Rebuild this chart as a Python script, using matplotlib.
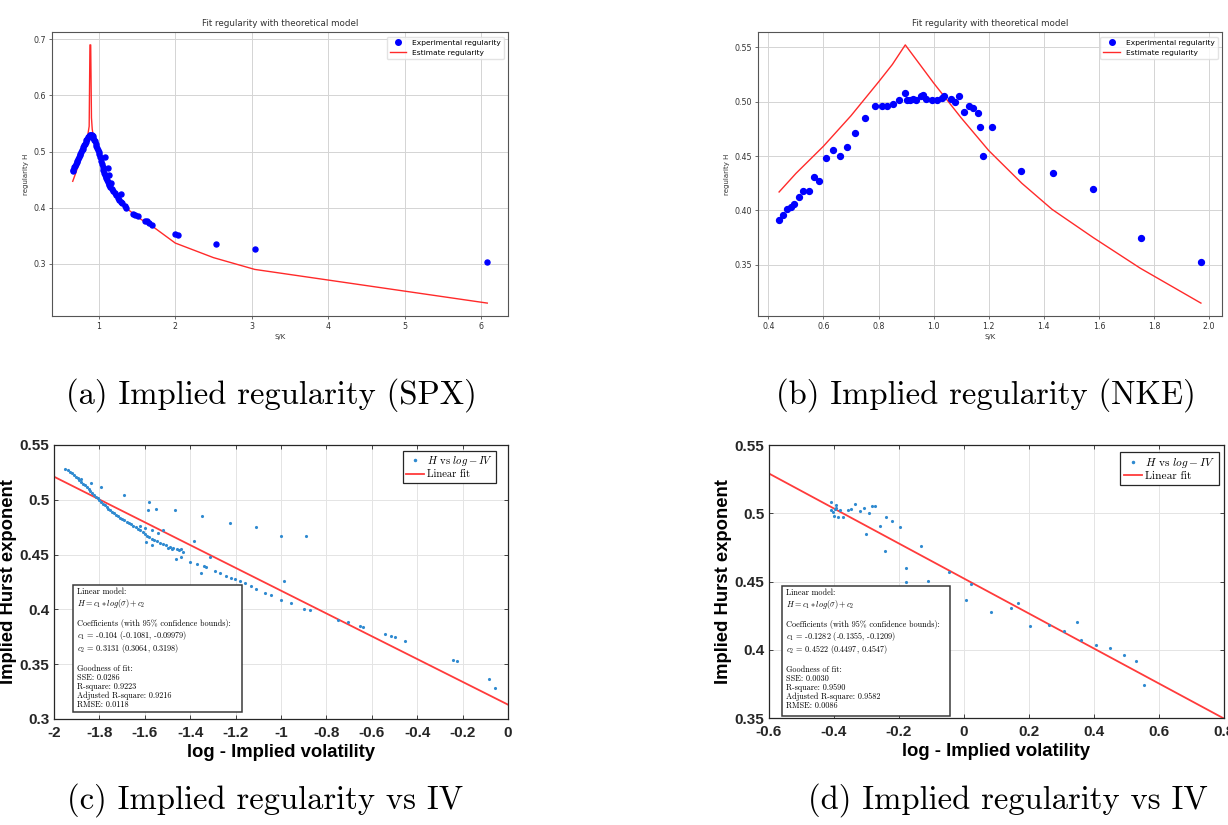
import numpy as np
import matplotlib
matplotlib.use("Agg")
import matplotlib.pyplot as plt
from matplotlib.patches import Rectangle
from matplotlib.lines import Line2D

plt.rcParams['mathtext.fontset'] = 'cm'
plt.rcParams['axes.unicode_minus'] = False

# ---------------- (a) SPX : regularity vs S/K ----------------
spx_x = [0.66, 0.67, 0.68, 0.69, 0.70, 0.71, 0.72, 0.73, 0.74, 0.75, 0.76, 0.77,
         0.78, 0.79, 0.80, 0.81, 0.82, 0.83, 0.84, 0.85, 0.86, 0.87, 0.88, 0.89,
         0.90, 0.91, 0.92, 0.93, 0.94, 0.95, 0.96, 0.97, 0.98, 0.99, 1.00, 1.01,
         1.02, 1.03, 1.04, 1.05, 1.06, 1.07, 1.08, 1.08, 1.09, 1.10, 1.11, 1.12,
         1.12, 1.13, 1.14, 1.14, 1.15, 1.165, 1.17, 1.19, 1.21, 1.23, 1.25, 1.27,
         1.29, 1.29, 1.31, 1.34, 1.36, 1.45, 1.48, 1.51, 1.60, 1.63, 1.66, 1.69,
         2.00, 2.03, 2.53, 3.04, 6.08]
spx_h = [0.465, 0.468, 0.472, 0.475, 0.478, 0.481, 0.484, 0.487, 0.490, 0.493, 0.496, 0.499,
         0.502, 0.505, 0.508, 0.511, 0.514, 0.517, 0.520, 0.523, 0.526, 0.528, 0.530, 0.530,
         0.530, 0.529, 0.527, 0.524, 0.521, 0.518, 0.514, 0.510, 0.506, 0.503, 0.500, 0.495,
         0.490, 0.484, 0.478, 0.472, 0.467, 0.462, 0.458, 0.490, 0.455, 0.452, 0.449, 0.471,
         0.446, 0.443, 0.459, 0.440, 0.437, 0.444, 0.434, 0.430, 0.426, 0.422, 0.418, 0.414,
         0.425, 0.411, 0.408, 0.403, 0.400, 0.389, 0.387, 0.385, 0.377, 0.376, 0.372, 0.370,
         0.353, 0.352, 0.335, 0.327, 0.304]
spx_fit_x = [0.66, 0.70, 0.75, 0.80, 0.84, 0.86, 0.875, 0.885, 0.895, 0.905, 0.915, 0.93,
             0.96, 1.00, 1.05, 1.10, 1.20, 1.30, 1.40, 1.50, 1.60, 1.70, 2.00, 2.50, 3.04, 6.08]
spx_fit_h = [0.447, 0.462, 0.482, 0.502, 0.520, 0.532, 0.545, 0.690, 0.690, 0.560, 0.540, 0.526,
             0.512, 0.495, 0.470, 0.452, 0.427, 0.409, 0.395, 0.384, 0.375, 0.367, 0.337, 0.311,
             0.290, 0.230]

# ---------------- (b) NKE : regularity vs S/K ----------------
nke_x = [0.439, 0.452, 0.466, 0.482, 0.494, 0.511, 0.527, 0.546, 0.566, 0.585, 0.608, 0.634,
         0.659, 0.686, 0.715, 0.752, 0.788, 0.812, 0.831, 0.854, 0.876, 0.896, 0.902, 0.915,
         0.925, 0.937, 0.954, 0.963, 0.973, 0.993, 1.012, 1.032, 1.038, 1.064, 1.077, 1.093,
         1.111, 1.129, 1.144, 1.161, 1.170, 1.178, 1.213, 1.317, 1.434, 1.578, 1.751, 1.970]
nke_h = [0.3909, 0.3962, 0.4011, 0.4032, 0.4060, 0.4125, 0.4180, 0.4180, 0.4309, 0.4269, 0.4478, 0.4558,
         0.4503, 0.4586, 0.4715, 0.4845, 0.4962, 0.4962, 0.4955, 0.4977, 0.5017, 0.5078, 0.5017, 0.5015,
         0.5020, 0.5017, 0.5048, 0.5063, 0.5023, 0.5011, 0.5017, 0.5032, 0.5054, 0.5023, 0.4992, 0.5048,
         0.4900, 0.4962, 0.4940, 0.4894, 0.4762, 0.4500, 0.4762, 0.4362, 0.4340, 0.4195, 0.3743, 0.3531]
nke_fit_x = [0.439, 0.50, 0.60, 0.70, 0.80, 0.85, 0.897, 0.95, 1.00, 1.10, 1.20, 1.32,
             1.43, 1.58, 1.75, 1.97]
nke_fit_h = [0.417, 0.434, 0.459, 0.487, 0.518, 0.534, 0.552, 0.534, 0.517, 0.485, 0.455, 0.425,
             0.401, 0.375, 0.347, 0.315]

# ---------------- (c) SPX : H vs log-IV ----------------
c_logiv = [-1.950, -1.940, -1.930, -1.920, -1.912, -1.905, -1.896, -1.888, -1.880, -1.872,
           -1.864, -1.856, -1.848, -1.840, -1.832, -1.824, -1.816, -1.808, -1.800, -1.792,
           -1.784, -1.776, -1.768, -1.760, -1.752, -1.744, -1.736, -1.728, -1.720, -1.710,
           -1.700, -1.690, -1.680, -1.670, -1.660, -1.650, -1.640, -1.630, -1.620, -1.610,
           -1.600, -1.590, -1.580, -1.570, -1.560, -1.548, -1.535, -1.520, -1.505, -1.490,
           -1.475, -1.460, -1.500, -1.480, -1.450,
           -1.880, -1.838, -1.794, -1.693, -1.583, -1.586, -1.552, -1.468, -1.348, -1.226,
           -1.109, -0.999, -0.891, -1.620, -1.600, -1.570, -1.540, -1.520, -1.593, -1.570,
           -1.383, -1.440, -1.430, -1.461, -1.439, -1.399, -1.370, -1.351, -1.314, -1.340,
           -1.329, -1.292, -1.270, -1.241, -1.220, -1.204, -1.180, -1.160, -1.131, -1.109,
           -1.072, -1.043, -0.999, -0.988, -0.955, -0.900, -0.874, -0.749, -0.705, -0.653,
           -0.640, -0.543, -0.515, -0.499, -0.455, -0.242, -0.225, -0.084, -0.056]
c_hurst = [0.5285, 0.5270, 0.5255, 0.5240, 0.5225, 0.5212, 0.5195, 0.5180, 0.5165, 0.5148,
           0.5132, 0.5115, 0.5098, 0.5080, 0.5064, 0.5047, 0.5030, 0.5013, 0.4998, 0.4982,
           0.4966, 0.4950, 0.4935, 0.4920, 0.4905, 0.4890, 0.4876, 0.4863, 0.4850, 0.4838,
           0.4825, 0.4813, 0.4800, 0.4790, 0.4778, 0.4765, 0.4752, 0.4738, 0.4722, 0.4705,
           0.4688, 0.4672, 0.4658, 0.4645, 0.4632, 0.4622, 0.4610, 0.4598, 0.4585, 0.4572,
           0.4560, 0.4550, 0.4560, 0.4552, 0.4540,
           0.5187, 0.5150, 0.5120, 0.5044, 0.4984, 0.4908, 0.4920, 0.4908, 0.4853, 0.4786,
           0.4750, 0.4670, 0.4670, 0.4760, 0.4740, 0.4720, 0.4700, 0.4720, 0.4619, 0.4590,
           0.4625, 0.4550, 0.4520, 0.4464, 0.4482, 0.4428, 0.4410, 0.4330, 0.4482, 0.4400,
           0.4391, 0.4346, 0.4330, 0.4306, 0.4290, 0.4276, 0.4260, 0.4240, 0.4209, 0.4185,
           0.4148, 0.4127, 0.4088, 0.4255, 0.4057, 0.4006, 0.3990, 0.3900, 0.3881, 0.3845,
           0.3835, 0.3778, 0.3760, 0.3747, 0.3708, 0.3541, 0.3526, 0.3364, 0.3283]
c_fit_x = [-2.0, 0.0]
c_fit_h = [0.5211, 0.3131]
c_box = ["Linear model:",
         r"$H = c_1 * log(\sigma) + c_2$",
         "",
         "Coefficients (with 95% confidence bounds):",
         r"$c_1$ = -0.104 (-0.1081, -0.09979)",
         r"$c_2$ = 0.3131 (0.3064, 0.3198)",
         "",
         "Goodness of fit:",
         "SSE: 0.0286",
         "R-square: 0.9223",
         "Adjusted R-square: 0.9216",
         "RMSE: 0.0118"]

# ---------------- (d) NKE : H vs log-IV ----------------
d_logiv = [-0.410, -0.408, -0.403, -0.398, -0.393, -0.400, -0.388, -0.395, -0.382, -0.372,
           -0.356, -0.348, -0.336, -0.320, -0.307, -0.292, -0.284, -0.274, -0.302, -0.258,
           -0.240, -0.242, -0.220, -0.198, -0.177, -0.177, -0.131, -0.110, -0.046, 0.006,
           0.023, 0.084, 0.146, 0.167, 0.203, 0.260, 0.307, 0.348, 0.359, 0.405,
           0.450, 0.491, 0.530, 0.553]
d_hurst = [0.5085, 0.5024, 0.5012, 0.5029, 0.5061, 0.4983, 0.4971, 0.5040, 0.5024, 0.4971,
           0.5024, 0.5029, 0.5068, 0.5020, 0.5037, 0.5000, 0.5054, 0.5054, 0.4849, 0.4907,
           0.4971, 0.4727, 0.4944, 0.4902, 0.4598, 0.4500, 0.4761, 0.4505, 0.4566, 0.4361,
           0.4483, 0.4273, 0.4305, 0.4341, 0.4176, 0.4183, 0.4134, 0.4200, 0.4068, 0.4037,
           0.4012, 0.3959, 0.3915, 0.3744]
d_fit_x = [-0.6, 0.8]
d_fit_h = [0.5291, 0.3496]
d_box = ["Linear model:",
         r"$H = c_1 * log(\sigma) + c_2$",
         "",
         "Coefficients (with 95% confidence bounds):",
         r"$c_1$ = -0.1282 (-0.1355, -0.1209)",
         r"$c_2$ = 0.4522 (0.4497, 0.4547)",
         "",
         "Goodness of fit:",
         "SSE: 0.0030",
         "R-square: 0.9590",
         "Adjusted R-square: 0.9582",
         "RMSE: 0.0086"]

captions = ["(a) Implied regularity (SPX)", "(b) Implied regularity (NKE)",
            "(c) Implied regularity vs IV", "(d) Implied regularity vs IV"]

W, H = 1228, 825
fig = plt.figure(figsize=(W / 100, H / 100), dpi=100)


def px_axes(left, top, right, bottom):
    return fig.add_axes([left / W, 1 - bottom / H, (right - left) / W, (bottom - top) / H])


def python_panel(ax, x, h, fx, fh, msize):
    ax.scatter(x, h, s=msize, c='blue', zorder=3)
    ax.plot(fx, fh, color='#ff2a2a', lw=1.0, zorder=2)
    ax.grid(True, color='#d4d4d4', lw=0.7)
    ax.set_axisbelow(True)
    for sp in ax.spines.values():
        sp.set_color('#555555')
        sp.set_linewidth(0.8)
    ax.tick_params(labelsize=5.7, length=2.5, width=0.5, pad=2, colors='#333333')
    ax.set_title("Fit regularity with theoretical model", fontsize=6.3, pad=4, color='#333333')
    ax.set_xlabel("S/K", fontsize=5, labelpad=2, color='#333333')
    ax.set_ylabel("regularity H", fontsize=5, labelpad=3, color='#333333')
    handles = [Line2D([], [], ls='none', marker='o', ms=4, color='blue'),
               Line2D([], [], color='#ff2a2a', lw=1.0)]
    ax.legend(handles, ["Experimental regularity", "Estimate regularity"], fontsize=5.4,
              loc='upper right', bbox_to_anchor=(0.991, 0.983), borderaxespad=0,
              handlelength=2.2, framealpha=0.8, edgecolor='#dddddd')


ax_a = px_axes(52, 32, 508, 316)
python_panel(ax_a, spx_x, spx_h, spx_fit_x, spx_fit_h, 13)

ax_b = px_axes(758, 32, 1222, 316)
python_panel(ax_b, nke_x, nke_h, nke_fit_x, nke_fit_h, 18)
ax_b.xaxis.set_major_formatter(matplotlib.ticker.FormatStrFormatter('%.1f'))


def matlab_panel(ax, x, h, fx, fh, xt, yt, box_lines, box_frac, leg_anchor, leg_size):
    ax.plot(x, h, ls='none', marker='.', ms=2.5, color='#2f8ad0', zorder=3)
    ax.plot(fx, fh, color='#ff3b3b', lw=1.3, zorder=2)
    ax.set_xlim(xt[0], xt[-1])
    ax.set_ylim(yt[0], yt[-1])
    bold = dict(fontweight='bold', fontfamily='Liberation Sans', fontsize=11)
    ax.set_xticks(xt, [f"{v:g}" for v in xt], **bold)
    ax.set_yticks(yt, [f"{v:g}" for v in yt], **bold)
    ax.tick_params(axis='x', pad=5)
    ax.tick_params(direction='in', top=True, right=True, length=3, width=0.6,
                   colors='#262626')
    ax.grid(True, color='#e4e4e4', lw=0.7)
    ax.set_axisbelow(True)
    for sp in ax.spines.values():
        sp.set_color('#262626')
        sp.set_linewidth(0.9)
    ax.set_xlabel("log - Implied volatility", fontweight='bold', fontfamily='Liberation Sans',
                  fontsize=13.3, labelpad=3)
    ax.set_ylabel("Implied Hurst exponent", fontweight='bold', fontfamily='Liberation Sans',
                  fontsize=13.3, labelpad=2)
    l, b, r, t = box_frac
    ax.add_patch(Rectangle((l, b), r - l, t - b, transform=ax.transAxes, facecolor='white',
                           edgecolor='#3a3a3a', lw=1.1, zorder=5))
    ax.text(l + 0.008, t - 0.01, "\n".join(box_lines), transform=ax.transAxes, ha='left',
            va='top', fontsize=5.9, fontfamily='cmr10', linespacing=1.07, zorder=6)
    handles = [Line2D([], [], ls='none', marker='.', ms=3, color='#2f8ad0'),
               Line2D([], [], color='#ff3b3b', lw=1.3)]
    leg = ax.legend(handles, [r"$H$ vs $log-IV$", "Linear fit"], loc='upper right',
                    bbox_to_anchor=leg_anchor, borderaxespad=0, fancybox=False,
                    edgecolor='#262626', framealpha=1, handlelength=1.6, handletextpad=0.3,
                    borderpad=0.3, labelspacing=0.15, prop={'family': 'cmr10', 'size': leg_size})
    leg.get_frame().set_linewidth(0.9)


ax_c = px_axes(54, 445, 508, 719)
matlab_panel(ax_c, c_logiv, c_hurst, c_fit_x, c_fit_h,
             [-2, -1.8, -1.6, -1.4, -1.2, -1, -0.8, -0.6, -0.4, -0.2, 0],
             [0.3, 0.35, 0.4, 0.45, 0.5, 0.55],
             c_box, (0.042, 0.026, 0.414, 0.489), (0.974, 0.978), 7.7)

ax_d = px_axes(769, 445, 1224, 718)
matlab_panel(ax_d, d_logiv, d_hurst, d_fit_x, d_fit_h,
             [-0.6, -0.4, -0.2, 0, 0.2, 0.4, 0.6, 0.8],
             [0.35, 0.4, 0.45, 0.5, 0.55],
             d_box, (0.029, 0.009, 0.398, 0.4835), (0.989, 0.974), 8.2)

cap_pos = [(271, 395), (986, 395), (265, 800), (1008, 800)]
for txt, (cx, cy) in zip(captions, cap_pos):
    fig.text(cx / W, 1 - cy / H, txt, ha='center', va='center', fontsize=23.5, fontfamily='cmr10')

fig.savefig("out.png", dpi=100)
